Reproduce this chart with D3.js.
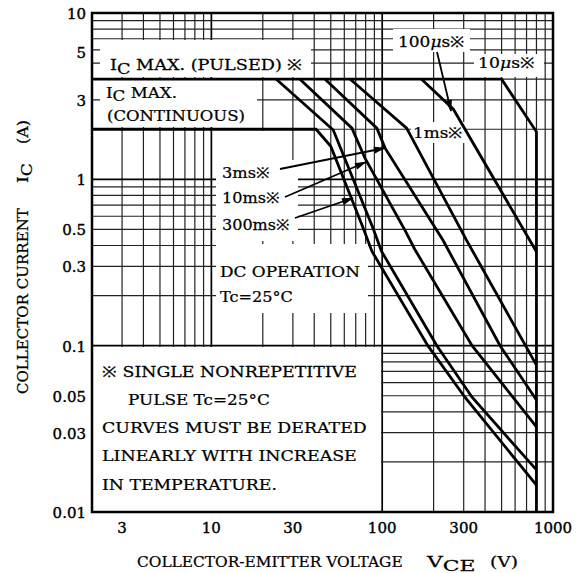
<!DOCTYPE html>
<html>
<head>
<meta charset="utf-8">
<script src="https://cdn.jsdelivr.net/npm/d3@7"></script>
<style>
  body { margin: 0; background: #fff; }
  svg text { font-family: "DejaVu Serif", "Liberation Serif", serif; fill: #000; }
</style>
</head>
<body>
<svg id="chart" width="584" height="573"></svg>
<script>
// axis ticks
var xTicks = [3, 10, 30, 100, 300, 1000];
var xTickLabels = ["3", "10", "30", "100", "300", "1000"];
var yTicks = [0.01, 0.03, 0.05, 0.1, 0.3, 0.5, 1, 3, 5, 10];
var yTickLabels = ["0.01", "0.03", "0.05", "0.1", "0.3", "0.5", "1", "3", "5", "10"];

// safe operating area curves, [VCE (V), IC (A)]
var soa10us = [[2, 4], [500, 4], [800, 1.93], [800, 0.01]];
var soa100us = [[170, 4], [261, 2.64], [800, 0.367]];
var soa1ms = [[65, 4], [139, 2.03], [312, 0.43], [800, 0.0764]];
var soa3ms = [[46.3, 4], [93, 2.03], [104, 1.54], [227, 0.43], [490, 0.1], [800, 0.0471]];
var soa10ms = [[33, 4], [66.5, 2.03], [79.3, 1.34], [138, 0.48], [155, 0.38], [336, 0.1], [800, 0.0325]];
var soa300ms = [[24, 4], [51.7, 1.98], [89, 0.5], [99, 0.37], [209, 0.1], [336, 0.049], [800, 0.0179]];
var soaDC = [[2, 2], [41, 2], [50, 1.58], [78, 0.5], [87, 0.37], [185, 0.1], [305, 0.049], [800, 0.0145]];

var curves = [soa10us, soa100us, soa1ms, soa3ms, soa10ms, soa300ms, soaDC];

var pLeft = 92, pRight = 553, pTop = 13, pBottom = 512;

var svg = d3.select("#chart");

var x = d3.scaleLog().domain([2, 1000]).range([pLeft, pRight]);
var y = d3.scaleLog().domain([0.01, 10]).range([pBottom, pTop]);

function isDecade(v) {
  var l = Math.log10(v);
  return Math.abs(l - Math.round(l)) < 1e-9;
}

// grid
var grid = svg.append("g");
grid
  .selectAll(".vgrid")
  .data(x.ticks())
  .enter()
  .append("line")
  .attr("class", "vgrid")
  .attr("x1", function(d) { return x(d); })
  .attr("x2", function(d) { return x(d); })
  .attr("y1", pTop)
  .attr("y2", pBottom)
  .style("stroke", function(d) { return isDecade(d) ? "#000" : "#222"; })
  .style("stroke-width", function(d) { return isDecade(d) ? 1.7 : 1.2; });

grid
  .selectAll(".hgrid")
  .data(y.ticks())
  .enter()
  .append("line")
  .attr("class", "hgrid")
  .attr("y1", function(d) { return y(d); })
  .attr("y2", function(d) { return y(d); })
  .attr("x1", pLeft)
  .attr("x2", pRight)
  .style("stroke", function(d) { return isDecade(d) ? "#000" : "#222"; })
  .style("stroke-width", function(d) { return isDecade(d) ? 1.7 : 1.2; });

// white label backgrounds that hide the grid
var masks = [
  [100, 40, 311, 77],
  [100, 80, 257, 127],
  [393, 29, 470, 52],
  [474, 54, 544, 77],
  [411, 122, 466, 143],
  [216, 131, 282, 160],
  [216, 160, 298, 241],
  [216, 244, 368, 313],
  [93, 347, 381, 511]
];
svg
  .append("g")
  .selectAll("rect")
  .data(masks)
  .enter()
  .append("rect")
  .attr("x", function(d) { return d[0]; })
  .attr("y", function(d) { return d[1]; })
  .attr("width", function(d) { return d[2] - d[0]; })
  .attr("height", function(d) { return d[3] - d[1]; })
  .style("fill", "#fff");

// frame
svg
  .append("rect")
  .attr("x", pLeft)
  .attr("y", pTop)
  .attr("width", pRight - pLeft)
  .attr("height", pBottom - pTop)
  .style("fill", "none")
  .style("stroke", "#000")
  .style("stroke-width", 2.5);

// curves
var line = d3
  .line()
  .x(function(d) { return x(d[0]); })
  .y(function(d) { return y(d[1]); });

svg
  .append("g")
  .selectAll("path")
  .data(curves)
  .enter()
  .append("path")
  .attr("d", line)
  .style("fill", "none")
  .style("stroke", "#000")
  .style("stroke-width", 2.8)
  .style("stroke-linejoin", "miter");

// arrows
svg
  .append("defs")
  .append("marker")
  .attr("id", "head")
  .attr("viewBox", "0 -4 12 8")
  .attr("refX", 11)
  .attr("refY", 0)
  .attr("markerUnits", "userSpaceOnUse")
  .attr("markerWidth", 14)
  .attr("markerHeight", 8)
  .attr("orient", "auto")
  .append("path")
  .attr("d", "M0,-3.5L12,0L0,3.5Z")
  .style("fill", "#000");

var arrows = [
  [437, 52, 451, 111],
  [280, 169, 385, 148],
  [285, 197, 366, 162],
  [295, 218, 353, 198]
];
svg
  .append("g")
  .selectAll("line")
  .data(arrows)
  .enter()
  .append("line")
  .attr("x1", function(d) { return d[0]; })
  .attr("y1", function(d) { return d[1]; })
  .attr("x2", function(d) { return d[2]; })
  .attr("y2", function(d) { return d[3]; })
  .style("stroke", "#000")
  .style("stroke-width", 1.8)
  .attr("marker-end", "url(#head)");

// tick labels
svg
  .append("g")
  .selectAll("text")
  .data(xTicks)
  .enter()
  .append("text")
  .attr("x", function(d) { return x(d); })
  .attr("y", 533)
  .attr("text-anchor", "middle")
  .style("font-size", "15px")
  .style("stroke", "#000")
  .style("stroke-width", 0.4)
  .text(function(d, i) { return xTickLabels[i]; });

svg
  .append("g")
  .selectAll("text")
  .data(yTicks)
  .enter()
  .append("text")
  .attr("x", 86)
  .attr("y", function(d) {
    // the "5" label sits a little high in the original
    return y(d) + (d === 5 ? -5 : 6);
  })
  .attr("text-anchor", "end")
  .style("font-size", "15px")
  .style("stroke", "#000")
  .style("stroke-width", 0.4)
  .text(function(d, i) { return yTickLabels[i]; });

// text helper: draws the parts, then stretches them to the wanted width
function label(xp, yp, parts, width, rotate) {
  var g = svg
    .append("g")
    .attr("transform", "translate(" + xp + "," + yp + ")" + (rotate ? " rotate(-90)" : ""));
  var t = g
    .append("text")
    .style("font-size", "15px")
    .style("stroke", "#000")
    .style("stroke-width", 0.25);
  parts.forEach(function(p) {
    var s = t.append("tspan").text(p.t);
    if (p.dy) s.attr("dy", p.dy);
    if (p.it) s.style("font-style", "italic");
  });
  if (width) {
    var w = t.node().getBBox().width;
    t.attr("transform", "scale(" + width / w + ",1)");
  }
  return t;
}

// axis titles
label(137, 567, [{ t: "COLLECTOR-EMITTER VOLTAGE" }], 266);
label(427, 567, [{ t: "V" }, { t: "CE", dy: 4 }], 50);
label(490, 567, [{ t: "(V)" }], 28);
label(28, 394, [{ t: "COLLECTOR CURRENT" }], 186, true);
label(28, 183, [{ t: "I" }, { t: "C", dy: 4 }], 20, true);
label(28, 144, [{ t: "(A)" }], 24, true);

// annotations
label(110, 70, [{ t: "I" }, { t: "C", dy: 4 }, { t: " MAX. (PULSED) ※", dy: -4 }], 193);
label(106, 98, [{ t: "I" }, { t: "C", dy: 3 }, { t: " MAX.", dy: -3 }], 71);
label(107, 121, [{ t: "(CONTINUOUS)" }], 138);
label(398, 47, [{ t: "100" }, { t: "μ", it: true }, { t: "s※" }], 67);
label(478, 68, [{ t: "10" }, { t: "μ", it: true }, { t: "s※" }], 57);
label(413, 138, [{ t: "1ms※" }], 50);
label(222, 178, [{ t: "3ms※" }], 48);
label(222, 203, [{ t: "10ms※" }], 58);
label(222, 230, [{ t: "300ms※" }], 68);
label(220, 277, [{ t: "DC OPERATION" }], 140);
label(220, 302, [{ t: "Tc=25°C" }], 73);
label(102, 377, [{ t: "※ SINGLE NONREPETITIVE" }], 255);
label(128, 405, [{ t: "PULSE Tc=25°C" }], 142);
label(102, 433, [{ t: "CURVES MUST BE DERATED" }], 265);
label(102, 461, [{ t: "LINEARLY WITH INCREASE" }], 255);
label(102, 490, [{ t: "IN TEMPERATURE." }], 175);
</script>
</body>
</html>
